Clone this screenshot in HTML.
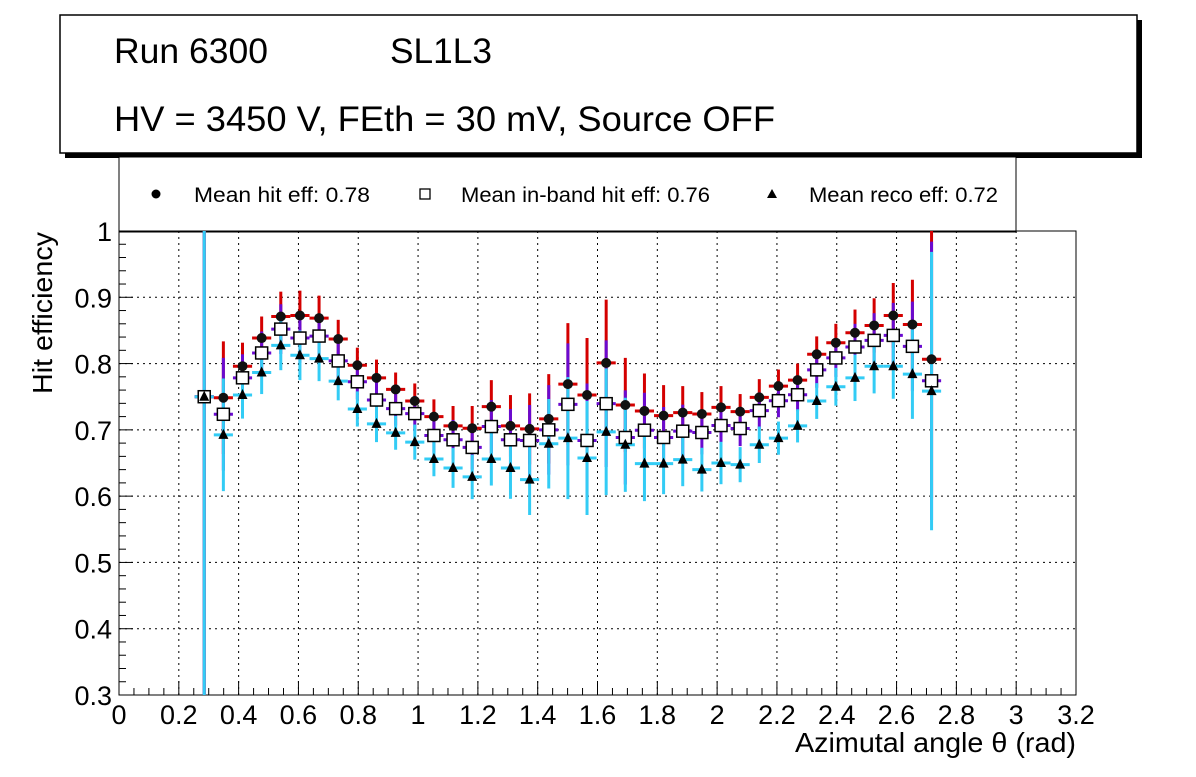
<!DOCTYPE html>
<html><head><meta charset="utf-8"><style>
body{margin:0;background:#fff;width:1196px;height:772px;overflow:hidden;font-family:"Liberation Sans",sans-serif}
</style></head><body>
<svg id="c" width="1196" height="772" xmlns="http://www.w3.org/2000/svg" font-family="Liberation Sans, sans-serif">
<rect x="65" y="20" width="1077" height="138" fill="#000"/>
<rect x="60" y="15" width="1077" height="138" fill="#fff" stroke="#000" stroke-width="1.5"/>
<text x="114" y="63" font-size="35" textLength="154" lengthAdjust="spacingAndGlyphs">Run 6300</text>
<text x="390" y="63" font-size="35" textLength="102" lengthAdjust="spacingAndGlyphs">SL1L3</text>
<text x="114" y="131" font-size="35" textLength="661" lengthAdjust="spacingAndGlyphs">HV = 3450 V, FEth = 30 mV, Source OFF</text>
<rect x="119" y="157" width="897" height="75" fill="#fff" stroke="#000" stroke-width="1"/>
<g><circle cx="156" cy="194" r="4.5" fill="#000"/><text x="194" y="202" font-size="21" textLength="176" lengthAdjust="spacingAndGlyphs">Mean hit  eff: 0.78</text></g>
<g><rect x="420" y="189" width="10" height="10" fill="#fff" stroke="#000" stroke-width="1.3"/><text x="461" y="202" font-size="21" textLength="249" lengthAdjust="spacingAndGlyphs">Mean in-band hit eff: 0.76</text></g>
<g><path d="M772,189 l5,9 h-10z" fill="#000"/><text x="809" y="202" font-size="21" textLength="189" lengthAdjust="spacingAndGlyphs">Mean reco eff: 0.72</text></g>
<g id="plot"></g>
<text x="1076" y="752" font-size="28" text-anchor="end" textLength="281" lengthAdjust="spacingAndGlyphs">Azimutal angle θ (rad)</text>
<text transform="translate(52,394) rotate(-90)" font-size="28" textLength="162" lengthAdjust="spacingAndGlyphs">Hit efficiency</text>
</svg>
<script>
const xTicks=[0,0.2,0.4,0.6,0.8,1,1.2,1.4,1.6,1.8,2,2.2,2.4,2.6,2.8,3,3.2];
const yTicks=[0.3,0.4,0.5,0.6,0.7,0.8,0.9,1];
const xStart=0.285, xStep=0.064;
const hitEff=[0.75,0.7485,0.796,0.8385,0.871,0.8725,0.8685,0.837,0.7975,0.7785,0.761,0.7435,0.72,0.706,0.7025,0.735,0.706,0.7015,0.7165,0.769,0.7525,0.801,0.7375,0.7285,0.7215,0.726,0.724,0.734,0.7275,0.749,0.766,0.775,0.814,0.8315,0.8465,0.8575,0.8725,0.859,0.8065];
const inbandEff=[0.75,0.7235,0.7785,0.816,0.852,0.8385,0.8415,0.804,0.7725,0.745,0.732,0.7245,0.6915,0.685,0.6735,0.705,0.685,0.684,0.70,0.7385,0.684,0.7395,0.6885,0.6995,0.6885,0.698,0.696,0.7065,0.702,0.729,0.744,0.753,0.7905,0.8085,0.825,0.835,0.8425,0.826,0.774];
const recoEff=[0.75,0.6925,0.7525,0.7865,0.8275,0.8125,0.8075,0.7735,0.7315,0.709,0.6955,0.6815,0.656,0.6425,0.629,0.656,0.6425,0.625,0.679,0.6875,0.6575,0.697,0.6775,0.649,0.649,0.655,0.64,0.65,0.6475,0.6775,0.6875,0.706,0.7435,0.765,0.7785,0.796,0.796,0.784,0.7585];
const errs=[0.5,0.085,0.0355,0.0325,0.0375,0.0375,0.034,0.029,0.0265,0.0275,0.0255,0.0265,0.026,0.03,0.0335,0.04,0.0465,0.0535,0.0675,0.092,0.086,0.0955,0.071,0.0565,0.046,0.04,0.033,0.032,0.0265,0.0275,0.025,0.025,0.027,0.0285,0.035,0.041,0.049,0.0675,0.21];
const X0=119,X1=1076,Y0=695,Y1=231;
const sx=v=>X0+(v-0)/(3.2)*(X1-X0);
const sy=v=>Y0-(v-0.3)/0.7*(Y0-Y1);
const NS='http://www.w3.org/2000/svg';
const g=document.getElementById('plot');
function mk(t,a,p){const e=document.createElementNS(NS,t);for(const k in a)e.setAttribute(k,a[k]);(p||g).appendChild(e);return e;}
xTicks.forEach(t=>{if(t>0&&t<3.2){const l=mk('line',{x1:sx(t),x2:sx(t),y1:Y0,y2:Y1,stroke:'#000','stroke-dasharray':'2,4','stroke-width':1});

}});
yTicks.forEach(t=>{if(t>0.3&&t<1){const l=mk('line',{x1:X0,x2:X1,y1:sy(t),y2:sy(t),stroke:'#000','stroke-dasharray':'2,4','stroke-width':1});

}});
const fr=mk('rect',{x:X0,y:Y1,width:X1-X0,height:Y0-Y1,fill:'none',stroke:'#000','stroke-width':1});


xTicks.forEach((t,i)=>{mk('line',{x1:sx(t),x2:sx(t),y1:Y0,y2:Y0-14,stroke:'#000'});
if(i<xTicks.length-1)for(let k=1;k<4;k++){const m=t+k*0.05;mk('line',{x1:sx(m),x2:sx(m),y1:Y0,y2:Y0-7,stroke:'#000'});}
const tx=mk('text',{x:sx(t),y:Y0+29,'font-size':27,'text-anchor':'middle'});tx.textContent=String(t);

});
yTicks.forEach((t,i)=>{mk('line',{x1:X0,x2:X0+14,y1:sy(t),y2:sy(t),stroke:'#000'});
if(i<yTicks.length-1)for(let k=1;k<5;k++){const m=t+k*0.02;mk('line',{x1:X0,x2:X0+7,y1:sy(m),y2:sy(m),stroke:'#000'});}
const tx=mk('text',{x:X0-7,y:sy(t)+10,'font-size':27,'text-anchor':'end'});tx.textContent=String(t);

});
const clip=mk('clipPath',{id:'cl'});mk('rect',{x:X0,y:Y1,width:X1-X0,height:Y0-Y1},clip);
const series=[[hitEff,'#d40000',1.0],[inbandEff,'#6a0ad0',1.0],[recoEff,'#33ccf5',1.0]];
const bars=mk('g',{'clip-path':'url(#cl)'});


series.forEach(([d,col,f])=>{d.forEach((v,i)=>{const x=xStart+i*xStep,e=errs[i]*f;
mk('line',{x1:sx(x),x2:sx(x),y1:sy(v-e),y2:sy(v+e),stroke:col,'stroke-width':3},bars);
mk('line',{x1:sx(x-xStep/2),x2:sx(x+xStep/2),y1:sy(v),y2:sy(v),stroke:col,'stroke-width':3},bars);});});
hitEff.forEach((v,i)=>{const c=mk('circle',{cx:sx(xStart+i*xStep),cy:sy(v),r:5,fill:'#111'});

});
inbandEff.forEach((v,i)=>{const r=mk('rect',{x:sx(xStart+i*xStep)-6,y:sy(v)-6,width:12,height:12,fill:'#fff',stroke:'#000','stroke-width':1.5});

});
recoEff.forEach((v,i)=>{const x=sx(xStart+i*xStep),y=sy(v);const p=mk('path',{d:`M${x},${y-6} L${x+5},${y+4} L${x-5},${y+4}Z`,fill:'#000'});

});
</script>
</body></html>
